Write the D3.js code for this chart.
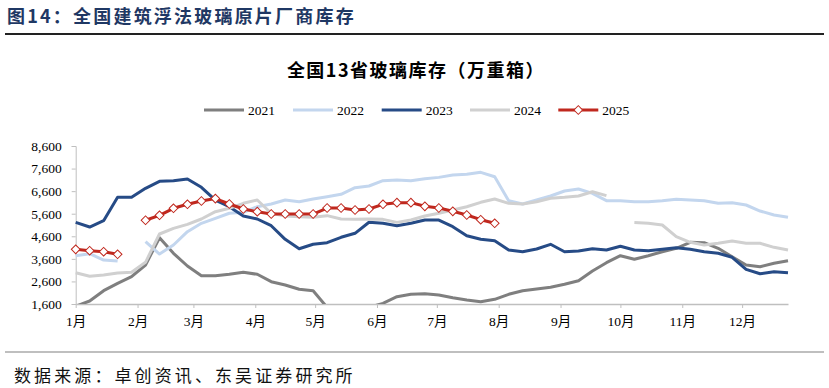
<!DOCTYPE html>
<html><head><meta charset="utf-8">
<script src="https://cdn.jsdelivr.net/npm/d3@7"></script>
<style>
html,body{margin:0;padding:0;background:#fff;}
svg{display:block;}
</style></head>
<body>
<svg id="c" width="829" height="388"></svg>
<script>
// ---- data (weekly points, week index 0..51 from Jan 1) ----
const years = ["2021","2022","2023","2024","2025"];
const s2021 = [1500,1733,2190,2517,2810,3328,4537,3846,3283,2854,2854,2916,3004,2916,2588,2442,2251,2190,1450,1350,1350,1450,1630,1923,2030,2056,1999,1880,1777,1702,1807,2030,2190,2265,2340,2473,2633,3062,3430,3740,3580,3740,3917,4067,4333,4315,4067,3695,3328,3252,3403,3518];
const s2022 = [3740,3828,3547,3503,null,4360,3815,4214,4803,5175,5397,5619,5663,5910,6030,6207,6132,6252,6353,6460,6754,6827,7062,7093,7062,7151,7210,7314,7345,7433,7240,6177,6030,6207,6384,6606,6695,6504,6177,6177,6132,6132,6177,6238,6207,6177,6060,6090,5986,5720,5543,5440];
const s2023 = [5219,5011,5290,6327,6327,6725,7036,7062,7137,6770,6200,5910,5498,5365,5069,4466,4050,4245,4315,4555,4732,5220,5175,5069,5175,5320,5320,5025,4625,4466,4404,3990,3917,4036,4245,3917,3946,4050,3990,4156,3990,3961,4023,4094,4023,3917,3846,3669,3137,2942,3031,2987];
const s2024 = [2987,2827,2885,2973,3004,3447,4701,4953,5130,5365,5690,5840,6060,6207,5619,5498,5470,5440,5514,5365,5350,5365,5350,5217,5320,5498,5618,5765,5910,6105,6253,6060,6030,6133,6283,6326,6384,6574,6400,null,5206,5175,5100,4583,4333,4214,4289,4391,4289,4289,4111,3990];
const s2025 = [4023,3961,3917,3802,null,5310,5530,5840,6017,6163,6270,6030,5808,5690,5587,5587,5587,5587,5853,5853,5764,5808,6017,6090,6090,5928,5853,5706,5543,5335,5175];
const yTicks = [1600,2600,3600,4600,5600,6600,7600,8600];
const monthLabels = ["1月","2月","3月","4月","5月","6月","7月","8月","9月","10月","11月","12月"];
const titleText = "图14：全国建筑浮法玻璃原片厂商库存";
const chartTitle = "全国13省玻璃库存（万重箱）";
const sourceText = "数据来源：卓创资讯、东吴证券研究所";

const seriesList = [
  {name:"2021", values:s2021, color:"#7f7f7f"},
  {name:"2022", values:s2022, color:"#c3d6ee"},
  {name:"2023", values:s2023, color:"#264b86"},
  {name:"2024", values:s2024, color:"#d0d0d0"},
  {name:"2025", values:s2025, color:"#c0281e", marker:true}
];

const svg = d3.select("#c");
const serif = "'Liberation Serif','Noto Sans CJK SC',serif";
const cjk = "'Noto Sans CJK SC',sans-serif";

// header
svg.append("text").attr("x",7).attr("y",23).attr("font-family",cjk).attr("font-weight","bold")
  .attr("font-size",18).attr("letter-spacing",2.2).attr("fill","#1f3864").text(titleText);
svg.append("line").attr("x1",5).attr("x2",824).attr("y1",34).attr("y2",34)
  .attr("stroke","#222").attr("stroke-width",2);
svg.append("line").attr("x1",5).attr("x2",824).attr("y1",352).attr("y2",352)
  .attr("stroke","#bfbfbf").attr("stroke-width",2);
svg.append("text").attr("x",14).attr("y",382).attr("font-family",cjk)
  .attr("font-size",17).attr("letter-spacing",3.1).attr("fill","#111").text(sourceText);

svg.append("text").attr("x",416).attr("y",77).attr("text-anchor","middle")
  .attr("font-family",cjk).attr("font-weight","bold").attr("font-size",18).attr("letter-spacing",1.5)
  .attr("fill","#000").text(chartTitle);

// scales
const dateOf = i => new Date(2025,0,1+7*i);
const x = d3.scaleTime().domain([new Date(2025,0,1), new Date(2025,11,24)]).range([75.7,788]);
const y = d3.scaleLinear().domain([1600,8600]).range([304,146]);

// axes
const yAxis = svg.append("g").attr("transform","translate(75.7,0)")
  .call(d3.axisLeft(y).tickValues(yTicks).tickFormat(d3.format(",")).tickSize(4).tickPadding(10));
yAxis.select(".domain").attr("stroke","#bfbfbf");
yAxis.selectAll(".tick line").attr("stroke","#bfbfbf");
yAxis.selectAll("text").attr("font-family",serif).attr("font-size",13.5).attr("fill","#000");

const months = d3.timeMonth.range(new Date(2025,0,1), new Date(2025,11,2));
const xAxis = svg.append("g").attr("transform","translate(0,304)")
  .call(d3.axisBottom(x).tickValues(months).tickFormat((d,i)=>monthLabels[i]).tickSize(4).tickSizeOuter(0).tickPadding(8));
xAxis.select(".domain").attr("stroke","#bfbfbf").attr("stroke-width",1.5);
xAxis.selectAll(".tick line").attr("stroke","#bfbfbf");
xAxis.selectAll("text").attr("font-family",serif).attr("font-size",13.5).attr("fill","#000");

// clip
svg.append("clipPath").attr("id","plot").append("rect").attr("x",74).attr("y",140).attr("width",720).attr("height",164);

const line = d3.line().defined(d=>d!=null).x((d,i)=>x(dateOf(i))).y(d=>y(d));
const g = svg.append("g").attr("clip-path","url(#plot)");
seriesList.forEach(s=>{
  g.append("path").attr("d",line(s.values)).attr("fill","none").attr("stroke",s.color)
    .attr("stroke-width",3).attr("stroke-linejoin","round");
});
const m = seriesList[4];
svg.append("g").selectAll("path").data(m.values.map((v,i)=>({v,i})).filter(d=>d.v!=null))
  .join("path").attr("transform",d=>`translate(${x(dateOf(d.i))},${y(d.v)}) rotate(45)`)
  .attr("d",d3.symbol().type(d3.symbolSquare).size(38))
  .attr("fill","#fff").attr("stroke",m.color).attr("stroke-width",1);

// legend
const legX = [204,293,381.7,470,558.3];
const leg = svg.append("g").selectAll("g").data(seriesList).join("g")
  .attr("transform",(d,i)=>`translate(${legX[i]},110)`);
leg.append("line").attr("x1",0).attr("x2",40).attr("stroke",d=>d.color).attr("stroke-width",3);
leg.filter(d=>d.marker).append("path").attr("transform","translate(20,0) rotate(45)")
  .attr("d",d3.symbol().type(d3.symbolSquare).size(38)).attr("fill","#fff").attr("stroke",d=>d.color);
leg.append("text").attr("x",44).attr("y",4.5).attr("font-family",serif).attr("font-size",13.5)
  .attr("fill","#000").text(d=>d.name);
</script>
</body></html>
